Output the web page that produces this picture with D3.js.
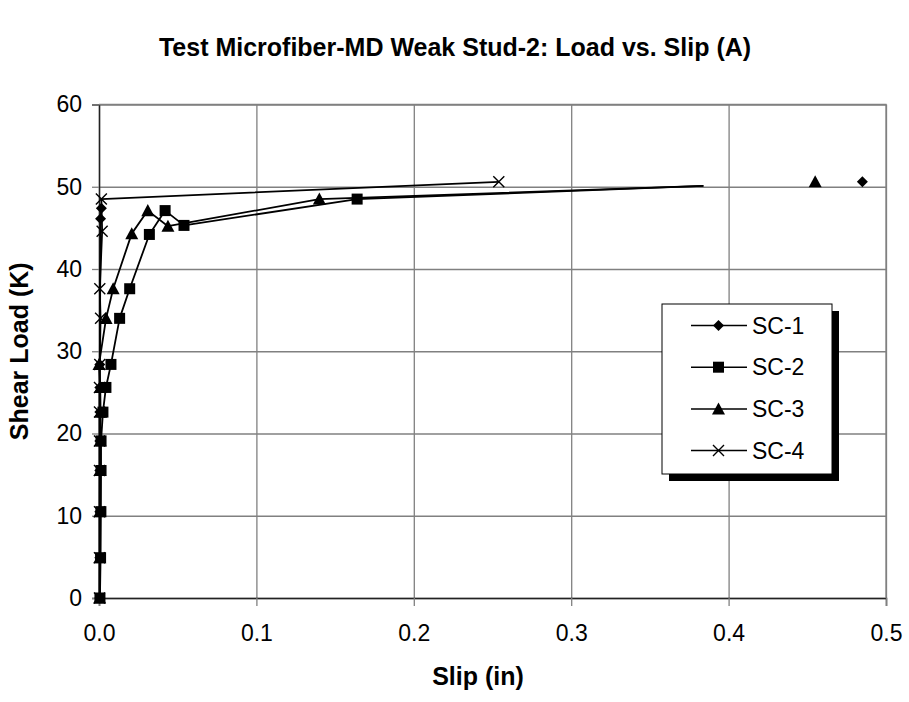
<!DOCTYPE html>
<html>
<head>
<meta charset="utf-8">
<script src="https://cdn.jsdelivr.net/npm/d3@7"></script>
<style>
  html, body { margin: 0; padding: 0; background: #fff; }
  svg { display: block; font-family: "Liberation Sans", Arial, sans-serif; }
</style>
</head>
<body>
<svg id="chart" width="909" height="702"></svg>
<script>
// Load (kips) vs. slip (in) readings for the four slip gauges
const sc1 = [[0.0005, 0], [0.0005, 4.9], [0.0005, 10.5], [0.0005, 15.5], [0.0005, 19.1], [0.0005, 22.6],
             [0.0005, 25.6], [0.0005, 28.4], [0.001, 46.1], [0.0015, 47.4]];
const sc1Final = [[0.485, 50.6]];

const sc2 = [[0.0006, 0], [0.001, 4.9], [0.0012, 10.5], [0.0013, 15.5], [0.0013, 19.1], [0.0025, 22.6],
             [0.0044, 25.6], [0.0076, 28.4], [0.0131, 34.0], [0.0195, 37.6], [0.032, 44.2],
             [0.042, 47.1], [0.054, 45.3], [0.164, 48.5], [0.384, 50.1]];

const sc3 = [[0.0004, 0], [0.0005, 4.9], [0.0005, 10.5], [0.0006, 15.5], [0.0008, 19.1], [0.001, 22.6],
             [0.0008, 25.6], [0.0, 28.4], [0.0045, 34.0], [0.009, 37.6], [0.0208, 44.3],
             [0.031, 47.1], [0.0438, 45.2], [0.140, 48.5], [0.384, 50.1]];
const sc3Final = [[0.455, 50.6]];

const sc4 = [[0.0003, 0], [0.0003, 4.9], [0.0003, 10.5], [0.0003, 15.5], [0.0003, 19.1], [0.0003, 22.6],
             [0.0003, 25.6], [0.0005, 28.4], [0.001, 34.0], [0.0005, 37.6], [0.002, 44.6],
             [0.0015, 48.5], [0.254, 50.6]];

// Points of SC-2 / SC-3 beyond the last reading are drawn as line only
const markedCount = { "SC-2": 14, "SC-3": 14 };

const xTicks = [0, 0.1, 0.2, 0.3, 0.4, 0.5];
const yTicks = [0, 10, 20, 30, 40, 50, 60];
const seriesNames = ["SC-1", "SC-2", "SC-3", "SC-4"];
const symbols = { "SC-1": "diamond", "SC-2": "square", "SC-3": "triangle", "SC-4": "cross" };

const titleText = "Test Microfiber-MD Weak Stud-2: Load vs. Slip (A)";
const xTitle = "Slip (in)";
const yTitle = "Shear Load (K)";

const svg = d3.select("#chart");
const plotL = 99, plotR = 886, plotT = 104.5, plotB = 598;

const x = d3.scaleLinear().domain([0, 0.5]).range([plotL, plotR]);
const y = d3.scaleLinear().domain([0, 60]).range([plotB, plotT]);

// gridlines
svg.append("g")
  .attr("transform", `translate(0,${plotB})`)
  .call(d3.axisBottom(x).tickValues(xTicks).tickSize(-(plotB - plotT)).tickFormat(""))
  .call(g => g.select(".domain").remove())
  .call(g => g.selectAll("line").attr("stroke", "#808080").attr("stroke-width", 1.3));
svg.append("g")
  .attr("transform", `translate(${plotL},0)`)
  .call(d3.axisLeft(y).tickValues(yTicks).tickSize(-(plotR - plotL)).tickFormat(""))
  .call(g => g.select(".domain").remove())
  .call(g => g.selectAll("line").attr("stroke", "#808080").attr("stroke-width", 1.3));

// axes
const xAxis = svg.append("g")
  .attr("transform", `translate(0,${plotB})`)
  .call(d3.axisBottom(x).tickValues(xTicks).tickSize(8).tickPadding(19).tickFormat(d3.format(".1f")));
xAxis.select(".domain").attr("stroke", "#222").attr("stroke-width", 1.5);
xAxis.selectAll(".tick line").attr("stroke", "#808080").attr("stroke-width", 1.3);
xAxis.selectAll("text").attr("font-size", 23).attr("fill", "#000")
  .attr("font-family", "Liberation Sans, Arial, sans-serif");

const yAxis = svg.append("g")
  .attr("transform", `translate(${plotL},0)`)
  .call(d3.axisLeft(y).tickValues(yTicks).tickSize(7).tickPadding(10).tickFormat(d3.format("d")));
yAxis.select(".domain").attr("stroke", "#222").attr("stroke-width", 1.5);
yAxis.selectAll(".tick line").attr("stroke", "#808080").attr("stroke-width", 1.3);
yAxis.selectAll("text").attr("font-size", 23).attr("fill", "#000")
  .attr("font-family", "Liberation Sans, Arial, sans-serif");

// top and right frame of the plot area
svg.append("path")
  .attr("d", `M${plotL},${plotT}H${plotR}V${plotB}`)
  .attr("fill", "none").attr("stroke", "#808080").attr("stroke-width", 1.3);

// titles
svg.append("text").attr("x", 455).attr("y", 56).attr("text-anchor", "middle")
  .attr("font-size", 25).attr("font-weight", "bold").text(titleText);
svg.append("text").attr("x", 478).attr("y", 685).attr("text-anchor", "middle")
  .attr("font-size", 25).attr("font-weight", "bold").text(xTitle);
svg.append("text").attr("transform", `translate(28,${(plotT + plotB) / 2}) rotate(-90)`)
  .attr("text-anchor", "middle").attr("font-size", 25).attr("font-weight", "bold").text(yTitle);

// series
const line = d3.line().x(d => x(d[0])).y(d => y(d[1]));
const series = [
  { name: "SC-1", pts: sc1, extra: sc1Final },
  { name: "SC-2", pts: sc2, extra: [] },
  { name: "SC-3", pts: sc3, extra: sc3Final },
  { name: "SC-4", pts: sc4, extra: [] }
];

const lineG = svg.append("g");
series.forEach(s => {
  lineG.append("path").datum(s.pts).attr("d", line)
    .attr("fill", "none").attr("stroke", "#000").attr("stroke-width", 1.8)
    .attr("stroke-linejoin", "round");
});

function drawMarker(g, kind, cx, cy) {
  if (kind === "cross") {
    const r = 5.5;
    g.append("path")
      .attr("d", `M${cx - r},${cy - r}L${cx + r},${cy + r}M${cx - r},${cy + r}L${cx + r},${cy - r}`)
      .attr("stroke", "#000").attr("stroke-width", 1.4).attr("fill", "none");
  } else if (kind === "diamond") {
    const r = 5.5;
    g.append("path").attr("d", `M${cx},${cy - r}L${cx + r},${cy}L${cx},${cy + r}L${cx - r},${cy}Z`)
      .attr("fill", "#000");
  } else if (kind === "square") {
    const h = 5.5;
    g.append("rect").attr("x", cx - h).attr("y", cy - h).attr("width", 2 * h).attr("height", 2 * h)
      .attr("fill", "#000");
  } else {
    const h = 6.5;
    g.append("path").attr("d", `M${cx},${cy - h}L${cx + h},${cy + h * 0.85}L${cx - h},${cy + h * 0.85}Z`)
      .attr("fill", "#000");
  }
}

const markG = svg.append("g");
series.forEach(s => {
  const n = markedCount[s.name] !== undefined ? markedCount[s.name] : s.pts.length;
  s.pts.slice(0, n).concat(s.extra).forEach(d => drawMarker(markG, symbols[s.name], x(d[0]), y(d[1])));
});

// legend
const lg = { x: 662, y: 304, w: 170, h: 170 };
svg.append("rect").attr("x", lg.x + 7).attr("y", lg.y + 7).attr("width", lg.w).attr("height", lg.h).attr("fill", "#000");
svg.append("rect").attr("x", lg.x).attr("y", lg.y).attr("width", lg.w).attr("height", lg.h)
  .attr("fill", "#fff").attr("stroke", "#000").attr("stroke-width", 1);
seriesNames.forEach((name, i) => {
  const cy = 325.5 + i * 41.7;
  svg.append("line").attr("x1", 691).attr("x2", 747).attr("y1", cy).attr("y2", cy)
    .attr("stroke", "#000").attr("stroke-width", 1.5);
  drawMarker(svg, symbols[name], 718.5, cy);
  svg.append("text").attr("x", 752).attr("y", cy + 8).attr("font-size", 23).text(name);
});
</script>
</body>
</html>
